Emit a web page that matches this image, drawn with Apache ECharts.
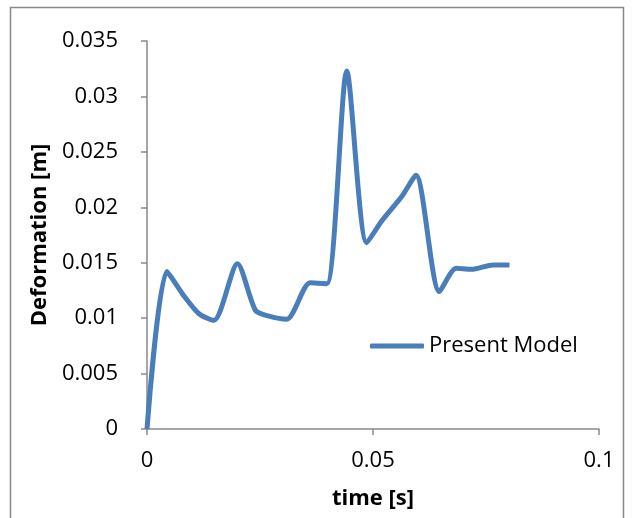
<!DOCTYPE html>
<html>
<head>
<meta charset="utf-8">
<script src="https://cdn.jsdelivr.net/npm/echarts@6/dist/echarts.min.js"></script>
<style>
  html, body { margin: 0; padding: 0; background: #fff; }
  #chart { width: 634px; height: 518px; }
</style>
</head>
<body>
<div id="chart"></div>
<script>
const times = [0, 0.0044, 0.008, 0.0115, 0.0148, 0.02, 0.024, 0.0268, 0.0309, 0.0361, 0.0398,
  0.0442, 0.0486, 0.052, 0.0564, 0.0595, 0.0647, 0.0684, 0.0718, 0.0766, 0.0802]
const deformation = [0, 0.0142, 0.0121, 0.0104, 0.0098, 0.0149, 0.0107, 0.0102, 0.0099, 0.0132, 0.0131,
  0.0323, 0.0168, 0.0188, 0.021, 0.0229, 0.0124, 0.0145, 0.0144, 0.0148, 0.0148]
const seriesName = 'Present Model'

const chart = echarts.init(document.getElementById('chart'))
const font = 'Open Sans, Liberation Sans, sans-serif'
const axisGrey = '#898989'

chart.setOption({
  animation: false,
  graphic: [{
    type: 'rect',
    shape: { x: 10.5, y: 7.5, width: 613, height: 530 },
    style: { fill: 'none', stroke: axisGrey, lineWidth: 1.5 }
  }],
  grid: { left: 147, right: 35, top: 41, bottom: 89, outerBoundsMode: 'none' },
  legend: {
    data: [seriesName],
    left: 370,
    top: 335,
    padding: 0,
    icon: 'roundRect',
    itemWidth: 54,
    itemHeight: 5,
    itemGap: 0,
    textStyle: { fontSize: 22, fontFamily: font, color: '#000' }
  },
  xAxis: {
    type: 'value',
    min: 0,
    max: 0.1,
    interval: 0.05,
    name: 'time [s]',
    nameLocation: 'middle',
    nameGap: 59,
    nameTextStyle: { fontSize: 22, fontWeight: 'bold', fontFamily: font, color: '#000' },
    axisLine: { lineStyle: { color: axisGrey, width: 1.5 } },
    axisTick: { show: true, length: 6, lineStyle: { color: axisGrey, width: 1.5 } },
    axisLabel: { fontSize: 22, fontFamily: font, color: '#000', margin: 21 },
    splitLine: { show: false }
  },
  yAxis: {
    type: 'value',
    min: 0,
    max: 0.035,
    interval: 0.005,
    name: 'Deformation [m]',
    nameLocation: 'middle',
    nameGap: 93,
    nameTextStyle: { fontSize: 22, fontWeight: 'bold', fontFamily: font, color: '#000' },
    axisLine: { show: true, lineStyle: { color: axisGrey, width: 1.5 } },
    axisTick: { show: true, length: 6, lineStyle: { color: axisGrey, width: 1.5 } },
    axisLabel: { fontSize: 22, fontFamily: font, color: '#000', margin: 29 },
    splitLine: { show: false }
  },
  series: [{
    name: seriesName,
    type: 'line',
    data: times.map((t, i) => [t, deformation[i]]),
    smooth: 0.25,
    showSymbol: false,
    lineStyle: { color: '#4a7ebb', width: 5 },
    itemStyle: { color: '#4a7ebb' }
  }]
})
</script>
</body>
</html>
